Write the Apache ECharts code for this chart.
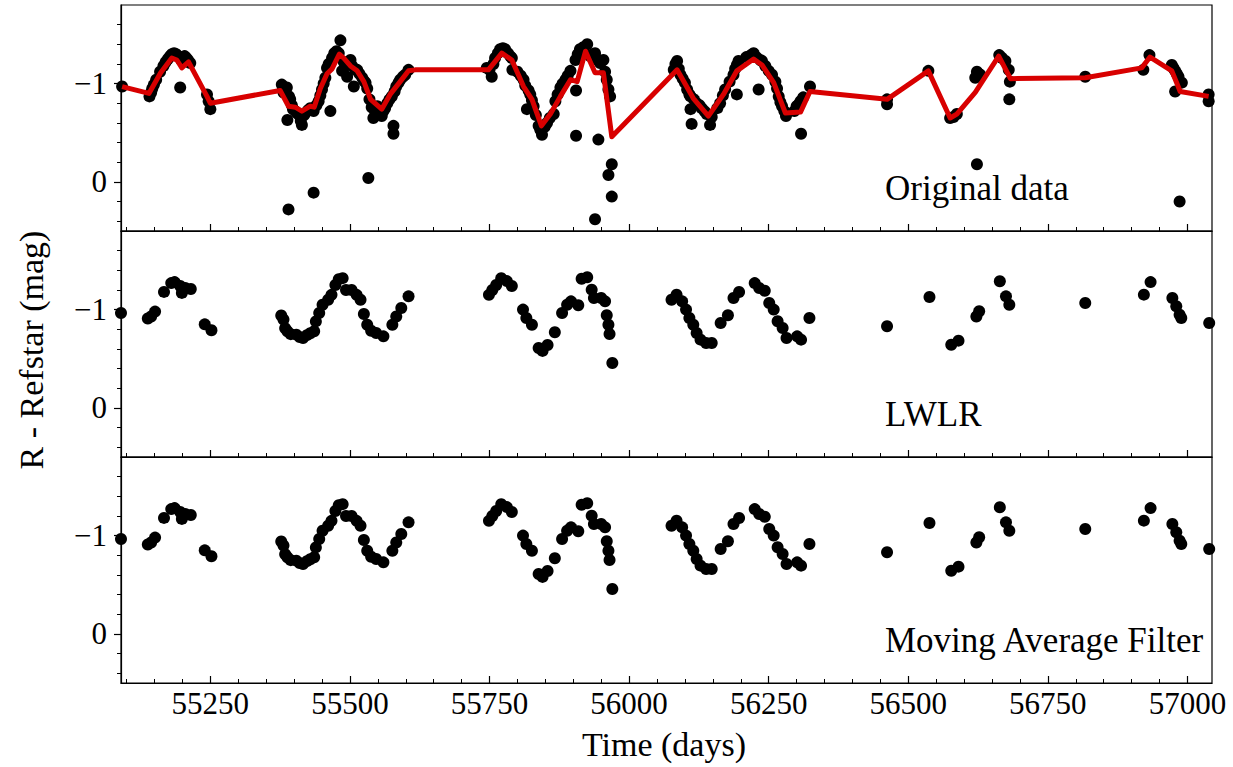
<!DOCTYPE html>
<html><head><meta charset="utf-8">
<script src="https://cdn.jsdelivr.net/npm/echarts@6/dist/echarts.min.js"></script>
<style>html,body{margin:0;padding:0;background:#fff}#c{width:1233px;height:767px}</style>
</head><body><div id="c"></div>
<script>
// ---------------- data ----------------
const xMajorTicks = [55250,55500,55750,56000,56250,56500,56750,57000];
const xMinorTicks = [55100,55150,55200,55300,55350,55400,55450,55550,55600,55650,55700,55800,55850,55900,55950,56050,56100,56150,56200,56300,56350,56400,56450,56550,56600,56650,56700,56800,56850,56900,56950];
const yMajorTicks = [-1, 0];
const yMinorTicks = [-1.6,-1.4,-1.2,-0.8,-0.6,-0.4,-0.2,0.2,0.4];
const panelLabels = ['Original data','LWLR','Moving Average Filter'];

// original observations [day, mag]
const originalData = [
[55092,-0.97],[55141,-0.87],[55144,-0.91],[55146,-0.95],[55149,-0.99],[55153,-1.04],[55160,-1.12],[55166,-1.18],[55170,-1.22],[55174,-1.25],[55178,-1.28],[55181,-1.30],[55185,-1.31],[55189,-1.30],[55192,-1.28],[55196,-0.96],[55198,-1.24],[55201,-1.27],[55204,-1.28],[55207,-1.26],[55210,-1.24],[55214,-1.21],[55244,-0.89],[55247,-0.82],[55250,-0.74],
[55378,-0.99],[55380,-0.95],[55381,-0.91],[55384,-0.93],[55387,-0.96],[55388,-0.63],[55390,0.28],[55391,-0.87],[55393,-0.84],[55396,-0.78],[55398,-0.74],[55402,-0.72],[55405,-0.70],[55409,-0.68],[55412,-0.62],[55414,-0.58],[55418,-0.68],[55420,-0.70],[55425,-0.73],[55429,-0.75],[55433,-0.74],[55435,-0.72],[55435,0.11],[55440,-0.78],[55444,-0.82],[55447,-0.88],[55450,-0.94],[55453,-1.00],[55456,-1.06],[55459,-1.16],[55462,-1.20],[55465,-0.72],[55468,-1.26],[55472,-1.31],[55476,-1.33],[55480,-1.31],[55483,-1.44],[55486,-1.13],[55489,-1.22],[55492,-1.18],[55495,-1.07],[55498,-1.20],[55501,-1.24],[55504,-1.18],[55507,-0.97],[55510,-1.14],[55513,-1.14],[55517,-1.10],[55522,-1.06],[55525,-1.03],[55528,-1.01],[55531,-0.95],[55533,-0.04],[55535,-0.84],[55539,-0.76],[55542,-0.65],[55545,-0.72],[55549,-0.77],[55553,-0.72],[55557,-0.67],[55560,-0.72],[55563,-0.75],[55567,-0.80],[55571,-0.84],[55575,-0.87],[55578,-0.57],[55578,-0.49],[55580,-0.92],[55583,-0.97],[55587,-1.01],[55590,-1.04],[55595,-1.07],[55599,-1.09],[55605,-1.14],
[55745,-1.16],[55750,-1.14],[55754,-1.07],[55757,-1.20],[55760,-1.26],[55765,-1.31],[55769,-1.35],[55774,-1.36],[55778,-1.35],[55783,-1.31],[55787,-1.28],[55790,-1.26],[55791,-1.14],[55800,-1.12],[55806,-1.08],[55811,-1.04],[55814,-0.98],[55817,-0.74],[55820,-0.93],[55823,-0.89],[55826,-0.83],[55829,-0.77],[55833,-0.68],[55838,-0.57],[55841,-0.53],[55844,-0.48],[55849,-0.56],[55853,-0.60],[55858,-0.65],[55865,-0.69],[55868,-0.82],[55872,-0.89],[55877,-0.96],[55881,-1.00],[55886,-1.04],[55890,-1.08],[55895,-1.13],[55904,-1.24],[55905,-0.93],[55905,-0.47],[55908,-1.30],[55912,-1.35],[55918,-1.37],[55925,-1.40],[55930,-1.28],[55935,-1.30],[55939,-1.31],[55945,-0.43],[55939,0.38],[55944,-1.24],[55948,-1.21],[55951,-1.23],[55954,-1.24],[55957,-1.12],[55960,-1.04],[55963,-0.94],[55963,-0.07],[55966,-0.87],[55969,-0.18],[55969,0.15],
[56080,-1.14],[56083,-1.20],[56086,-1.23],[56089,-1.15],[56092,-1.09],[56096,-1.05],[56100,-1.01],[56104,-0.94],[56108,-0.89],[56110,-0.87],[56110,-0.74],[56112,-0.59],[56116,-0.84],[56121,-0.80],[56126,-0.78],[56130,-0.75],[56135,-0.72],[56139,-0.69],[56145,-0.58],[56148,-0.66],[56158,-0.75],[56163,-0.80],[56168,-0.88],[56172,-0.94],[56180,-1.02],[56187,-1.09],[56190,-1.15],[56193,-1.19],[56193,-0.89],[56196,-1.23],[56210,-1.27],[56218,-1.29],[56223,-1.31],[56228,-1.27],[56232,-0.94],[56235,-1.24],[56238,-1.23],[56244,-1.18],[56250,-1.13],[56256,-1.09],[56262,-1.02],[56265,-0.95],[56268,-0.87],[56271,-0.81],[56274,-0.77],[56278,-0.72],[56281,-0.67],[56296,-0.72],[56300,-0.77],[56304,-0.79],[56307,-0.82],[56308,-0.49],[56312,-0.86],[56324,-0.97],
[56462,-0.84],[56462,-0.79],[56536,-1.13],[56575,-0.65],[56581,-0.66],[56587,-0.69],[56620,-1.06],[56623,-1.12],[56626,-1.10],[56629,-1.09],[56623,-0.18],[56663,-1.29],[56668,-1.26],[56674,-1.23],[56680,-1.14],[56682,-1.02],[56681,-0.84],
[56817,-1.07],[56921,-1.14],[56932,-1.29],[56972,-1.19],[56975,-1.16],[56978,-1.13],[56981,-1.10],[56984,-1.07],[56990,-1.01],[56978,-0.92],[56986,0.20],[57038,-0.89],[57038,-0.82]
];

// red smoothed curve over the original data
const redDays = [55092,55140,55161,55181,55190,55199,55211,55244,55250,55375,55390,55402,55414,55429,55436,55447,55459,55468,55481,55489,55501,55513,55525,55537,55557,55572,55590,55605,55617,55748,55772,55790,55811,55826,55843,55859,55877,55895,55907,55922,55939,55954,55969,56086,56115,56142,56169,56193,56223,56238,56259,56280,56307,56324,56462,56536,56575,56587,56620,56662,56683,56817,56918,56933,56972,56987,57038];
const redMags = [-0.97,-0.90,-1.11,-1.26,-1.24,-1.16,-1.22,-0.87,-0.80,-0.93,-0.77,-0.76,-0.72,-0.77,-0.76,-0.95,-1.10,-1.15,-1.30,-1.26,-1.18,-1.13,-1.02,-0.84,-0.74,-0.89,-1.02,-1.13,-1.14,-1.14,-1.31,-1.24,-0.97,-0.84,-0.57,-0.69,-0.87,-1.04,-1.02,-1.33,-1.11,-1.11,-0.46,-1.14,-0.85,-0.67,-0.89,-1.13,-1.25,-1.19,-1.01,-0.70,-0.71,-0.92,-0.84,-1.13,-0.65,-0.69,-0.91,-1.28,-1.05,-1.06,-1.16,-1.27,-1.13,-0.92,-0.87];

// filtered light curves
const obsDays = [55090,55138,55144,55151,55167,55180,55186,55196,55199,55205,55215,55240,55252,
55377,55381,55384,55388,55394,55404,55410,55416,55423,55429,55436,55439,55445,55451,55461,55467,55474,55480,55487,55493,55503,55512,55519,55525,55531,55538,55547,55560,55576,55583,55592,55605,
55749,55755,55762,55771,55781,55790,55810,55816,55826,55838,55845,55854,55867,55880,55889,55896,55909,55915,55925,55933,55937,55950,55957,55960,55963,55965,55970,
56076,56085,56095,56102,56108,56115,56121,56128,56138,56148,56164,56177,56187,56197,56225,56233,56243,56251,56259,56266,56275,56282,56301,56308,56323,
56462,56538,56577,56590,56622,56627,56664,56675,56681,
56817,56922,56934,56973,56980,56986,56989,57039];
const lwlrMags = [-0.965,-0.91,-0.93,-0.98,-1.18,-1.27,-1.28,-1.24,-1.17,-1.22,-1.21,-0.85,-0.79,
-0.94,-0.90,-0.81,-0.78,-0.75,-0.745,-0.72,-0.71,-0.74,-0.76,-0.78,-0.88,-0.965,-1.05,-1.10,-1.15,-1.25,-1.31,-1.32,-1.20,-1.20,-1.15,-1.10,-0.955,-0.846,-0.785,-0.762,-0.728,-0.846,-0.93,-1.016,-1.135,
-1.15,-1.20,-1.25,-1.32,-1.29,-1.24,-1.0,-0.915,-0.846,-0.61,-0.58,-0.64,-0.77,-0.965,-1.05,-1.084,-1.044,-1.314,-1.329,-1.203,-1.118,-1.118,-1.084,-0.942,-0.846,-0.752,-0.457,
-1.10,-1.152,-1.084,-1.0,-0.915,-0.846,-0.762,-0.694,-0.66,-0.66,-0.864,-0.942,-1.118,-1.179,-1.27,-1.22,-1.192,-1.067,-1.0,-0.881,-0.813,-0.711,-0.728,-0.694,-0.915,
-0.83,-1.128,-0.643,-0.684,-0.93,-0.983,-1.288,-1.135,-1.05,
-1.067,-1.152,-1.28,-1.118,-1.034,-0.948,-0.915,-0.864];
const mafMags = [-0.965,-0.91,-0.93,-0.98,-1.18,-1.27,-1.28,-1.24,-1.17,-1.22,-1.21,-0.85,-0.79,
-0.94,-0.90,-0.81,-0.78,-0.75,-0.745,-0.72,-0.71,-0.74,-0.76,-0.78,-0.88,-0.965,-1.05,-1.10,-1.15,-1.25,-1.31,-1.32,-1.20,-1.20,-1.15,-1.10,-0.955,-0.846,-0.785,-0.762,-0.728,-0.846,-0.93,-1.016,-1.135,
-1.15,-1.20,-1.25,-1.32,-1.29,-1.24,-1.0,-0.915,-0.846,-0.61,-0.58,-0.64,-0.77,-0.965,-1.05,-1.084,-1.044,-1.314,-1.329,-1.203,-1.118,-1.118,-1.084,-0.942,-0.846,-0.752,-0.457,
-1.10,-1.152,-1.084,-1.0,-0.915,-0.846,-0.762,-0.694,-0.66,-0.66,-0.864,-0.942,-1.118,-1.179,-1.27,-1.22,-1.192,-1.067,-1.0,-0.881,-0.813,-0.711,-0.728,-0.694,-0.915,
-0.83,-1.128,-0.643,-0.684,-0.93,-0.983,-1.288,-1.135,-1.05,
-1.067,-1.152,-1.28,-1.118,-1.034,-0.948,-0.915,-0.864];

// ---------------- chart ----------------
const FONT = '"Liberation Serif", "DejaVu Serif", serif';
const X_MIN = 55090, X_MAX = 57044, Y_MIN = -1.8, Y_MAX = 0.5;
const gridTops = [5, 231, 457];
const zip = (a, b) => a.map((v, i) => [v, b[i]]);

const grids = gridTops.map(t => ({
  left: 121, right: 21, top: t, height: 226, show: true,
  borderColor: '#000', borderWidth: 1.2, backgroundColor: 'transparent'
}));

const xAxes = [], yAxes = [];
gridTops.forEach((t, i) => {
  const last = i === 2;
  xAxes.push({
    type: 'value', gridIndex: i, min: X_MIN, max: X_MAX, position: 'bottom',
    axisLine: { show: true, onZero: false, lineStyle: { color: '#000', width: 1.2 } },
    axisTick: { show: true, inside: true, length: 7, customValues: xMajorTicks, lineStyle: { color: '#000', width: 1.2 } },
    axisLabel: { show: last, customValues: xMajorTicks, formatter: v => String(v), color: '#000', fontFamily: FONT, fontSize: 31, margin: 5 },
    splitLine: { show: false }
  });
  xAxes.push({
    type: 'value', gridIndex: i, min: X_MIN, max: X_MAX, position: 'bottom',
    axisLine: { show: false, onZero: false },
    axisTick: { show: true, inside: true, length: 4, customValues: xMinorTicks, lineStyle: { color: '#000', width: 1 } },
    axisLabel: { show: false }, splitLine: { show: false }
  });
  yAxes.push({
    type: 'value', gridIndex: i, min: Y_MIN, max: Y_MAX, inverse: true, position: 'left',
    axisLine: { show: true, onZero: false, lineStyle: { color: '#000', width: 1.2 } },
    axisTick: { show: true, inside: false, length: 7, customValues: yMajorTicks, lineStyle: { color: '#000', width: 1.2 } },
    axisLabel: { show: true, customValues: yMajorTicks, formatter: v => (v < 0 ? '\u2212' + Math.abs(v) : String(v)), color: '#000', fontFamily: FONT, fontSize: 31, margin: 14 },
    splitLine: { show: false }
  });
  yAxes.push({
    type: 'value', gridIndex: i, min: Y_MIN, max: Y_MAX, inverse: true, position: 'left',
    axisLine: { show: false, onZero: false },
    axisTick: { show: true, inside: false, length: 4, customValues: yMinorTicks, lineStyle: { color: '#000', width: 1 } },
    axisLabel: { show: false }, splitLine: { show: false }
  });
});

const dot = { type: 'scatter', symbol: 'circle', symbolSize: 12, itemStyle: { color: '#000', opacity: 1 }, z: 2, silent: true };

const option = {
  animation: false,
  backgroundColor: '#fff',
  grid: grids,
  xAxis: xAxes,
  yAxis: yAxes,
  series: [
    Object.assign({}, dot, { name: 'original', xAxisIndex: 0, yAxisIndex: 0, data: originalData }),
    { name: 'fit', type: 'line', xAxisIndex: 0, yAxisIndex: 0, data: zip(redDays, redMags), showSymbol: false, symbol: 'none',
      lineStyle: { color: '#d80000', width: 5, join: 'round' }, z: 5, silent: true },
    Object.assign({}, dot, { name: 'lwlr', xAxisIndex: 2, yAxisIndex: 2, data: zip(obsDays, lwlrMags) }),
    Object.assign({}, dot, { name: 'maf', xAxisIndex: 4, yAxisIndex: 4, data: zip(obsDays, mafMags) })
  ],
  graphic: [
    { type: 'text', x: 885, y: 188, style: { text: panelLabels[0], font: '35px ' + FONT, fill: '#000', verticalAlign: 'middle' } },
    { type: 'text', x: 885, y: 414, style: { text: panelLabels[1], font: '35px ' + FONT, fill: '#000', verticalAlign: 'middle' } },
    { type: 'text', x: 885, y: 640, style: { text: panelLabels[2], font: '35px ' + FONT, fill: '#000', verticalAlign: 'middle' } },
    { type: 'text', x: 664, y: 744, style: { text: 'Time (days)', font: '34px ' + FONT, fill: '#000', align: 'center', verticalAlign: 'middle' } },
    { type: 'text', x: 31, y: 350, rotation: Math.PI / 2, style: { text: 'R - Refstar (mag)', font: '34px ' + FONT, fill: '#000', align: 'center', verticalAlign: 'middle' } }
  ]
};

const chart = echarts.init(document.getElementById('c'), null, { renderer: 'svg', width: 1233, height: 767 });
chart.setOption(option);
</script>
</body></html>
